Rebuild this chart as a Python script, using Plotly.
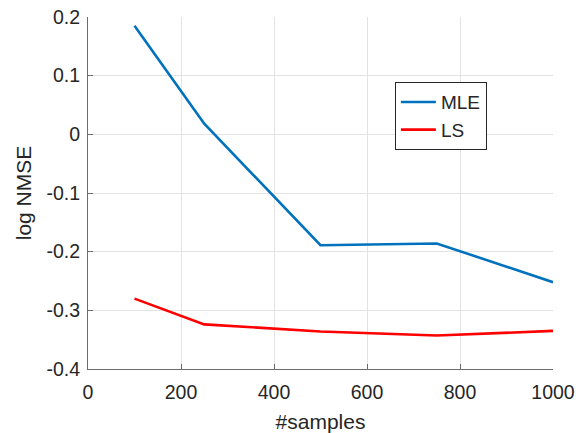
import plotly.graph_objects as go

samples = [100, 250, 500, 750, 1000]
mle = [0.185, 0.018, -0.189, -0.186, -0.252]
ls = [-0.280, -0.324, -0.336, -0.343, -0.335]
x_ticks = [0, 200, 400, 600, 800, 1000]
y_ticks = [-0.4, -0.3, -0.2, -0.1, 0, 0.1, 0.2]
y_labels = ["-0.4", "-0.3", "-0.2", "-0.1", "0", "0.1", "0.2"]

FONT = "Liberation Sans, Arial, Helvetica, sans-serif"
TXT = "#262626"
AX = "#6b6b6b"
GRID = "#e3e3e3"

fig = go.Figure()
fig.add_trace(go.Scatter(x=samples, y=mle, mode="lines", name="MLE",
                         line=dict(color="#0072BD", width=2.6)))
fig.add_trace(go.Scatter(x=samples, y=ls, mode="lines", name="LS",
                         line=dict(color="#FF0000", width=2.6)))

fig.update_layout(
    width=579, height=433,
    margin=dict(l=88, r=26, t=17, b=64),
    paper_bgcolor="white", plot_bgcolor="white",
    font=dict(family=FONT, size=19, color=TXT),
    showlegend=True,
    legend=dict(x=0.66, y=0.815, xanchor="left", yanchor="top",
                bgcolor="white", bordercolor=TXT, borderwidth=1,
                font=dict(size=19, color=TXT), tracegroupgap=0,
                itemwidth=35),
    xaxis=dict(range=[0, 1000], tickvals=x_ticks, ticks="inside", ticklen=5,
               tickcolor=AX, showline=True, linecolor=AX, linewidth=1,
               mirror=False, showgrid=True, gridcolor=GRID, gridwidth=1,
               zeroline=False, tickfont=dict(size=19.5, color=TXT),
               ticklabelstandoff=6,
               title=dict(text="#samples", font=dict(size=21, color=TXT), standoff=14),
               automargin=False),
    yaxis=dict(range=[-0.4, 0.2], tickvals=y_ticks, ticktext=y_labels,
               ticks="inside", ticklen=5,
               tickcolor=AX, showline=True, linecolor=AX, linewidth=1,
               mirror=False, showgrid=True, gridcolor=GRID, gridwidth=1,
               zeroline=False, tickfont=dict(size=19.5, color=TXT),
               ticklabelstandoff=3,
               title=dict(text="log NMSE", font=dict(size=21, color=TXT), standoff=9),
               automargin=False),
)

fig.write_html("out.html")
